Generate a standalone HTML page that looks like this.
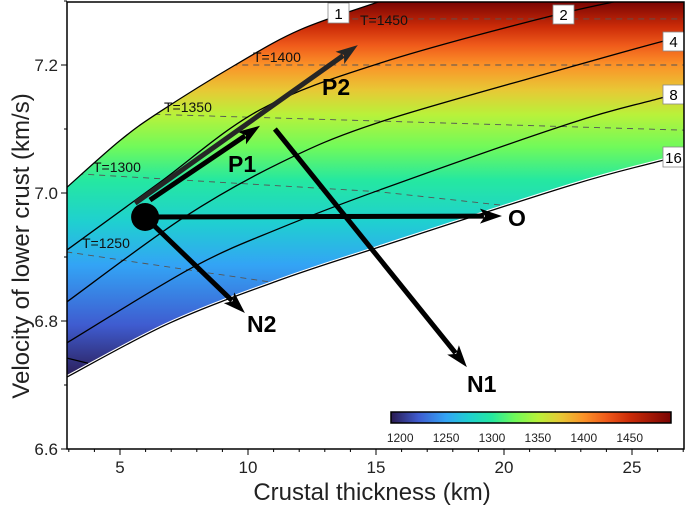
<!DOCTYPE html>
<html><head><meta charset="utf-8"><style>
html,body{margin:0;padding:0;background:#fff;}
svg{display:block;font-family:"Liberation Sans",Arial,sans-serif;}
</style></head><body>
<svg id="chart" width="685" height="509" viewBox="0 0 685 509" xmlns="http://www.w3.org/2000/svg">
<defs>
<linearGradient id="bandGrad" gradientUnits="userSpaceOnUse" x1="0" y1="2" x2="0" y2="380">
</linearGradient>
<linearGradient id="cbGrad" gradientUnits="userSpaceOnUse" x1="391" y1="0" x2="671" y2="0"></linearGradient>
<clipPath id="plotClip"><rect x="67" y="2" width="617" height="447"/></clipPath>
<clipPath id="bandClip"><path id="bandClipPath" d=""/></clipPath>
</defs>
<g id="plot"></g>
<g id="axes"></g>
</svg>
<script>
// ---- data ----
const xTicks = [5, 10, 15, 20, 25];
const yTicks = [6.6, 6.8, 7.0, 7.2];
const cbTicks = [1200, 1250, 1300, 1350, 1400, 1450];
// contour curves: thickness (km) and velocity (km/s)
const c1H = [2.93, 5.0, 6.56, 9.5, 12.03, 15.2, 17];
const c1V = [7.009, 7.082, 7.127, 7.2, 7.255, 7.30, 7.325];
const c2H = [2.93, 6.5, 10.47, 15.16, 22.3, 27.1];
const c2V = [6.911, 7.015, 7.13, 7.203, 7.281, 7.32];
const c4H = [2.93, 7.46, 11.25, 15.16, 22.6, 26.1, 27.1];
const c4V = [6.830, 6.961, 7.047, 7.111, 7.197, 7.236, 7.245];
const c8H = [2.93, 7.85, 11.25, 15.16, 22.6, 26.1, 27.1];
const c8V = [6.766, 6.884, 6.945, 7.005, 7.109, 7.148, 7.16];
const c16H = [2.93, 6.95, 11.25, 15.16, 22.6, 26.1, 27.1];
const c16V = [6.7125, 6.797, 6.864, 6.916, 7.012, 7.05, 7.06];
const c32H = [2.93, 3.75];
const c32V = [6.742, 6.734];
// isotherms (dashed): temperature, thickness points, velocity points
const isoT = [1450, 1400, 1350, 1300, 1250];
const isoH = [[2.9, 27.2], [2.9, 27.2], [2.9, 27.2], [2.9, 15.1, 19.9, 27.2], [2.9, 11.2, 20]];
const isoV = [[7.272, 7.272], [7.2, 7.2], [7.127, 7.098], [7.031, 7.002, 6.981, 6.95], [6.908, 6.859, 6.82]];
// colormap temperatures and colours
const cmapT = [1190, 1220, 1250, 1275, 1300, 1325, 1350, 1375, 1400, 1425, 1450, 1495];
const cmapC = ['#2a1a50','#3f5cd0','#33a4f5','#1fd0d0','#25e8a0','#70fa5a','#b8f23a','#e8c835','#fb9228','#ef5a1a','#cc2c08','#7a0403'];
// arrows: start/end in data coords
const arrowNames = ['O', 'P1', 'P2', 'N2', 'N1'];
const arrowH0 = [5.98, 6.17, 5.59, 5.98, 11.05];
const arrowV0 = [6.9625, 6.989, 6.984, 6.9625, 7.10];
const arrowH1 = [19.92, 10.47, 14.29, 9.88, 18.55];
const arrowV1 = [6.964, 7.105, 7.231, 6.8125, 6.728];
const dotH = 5.98, dotV = 6.9625;

// ---- axes ----
const X = h => 68.8 + (h - 3) * 25.6;
const Y = v => 449 - (v - 6.6) * 640;
const CB = t => 391 + (t - 1190) / 305 * 280;
const NS = 'http://www.w3.org/2000/svg';
function mk(tag, attrs, parent) {
  const e = document.createElementNS(NS, tag);
  for (const k in attrs) e.setAttribute(k, attrs[k]);
  parent.appendChild(e);
  return e;
}
function spline(H, V) {
  const p = H.map((h, i) => [X(h), Y(V[i])]);
  if (p.length === 2) return `M${p[0][0]},${p[0][1]}L${p[1][0]},${p[1][1]}`;
  let d = `M${p[0][0]},${p[0][1]}`;
  for (let i = 0; i < p.length - 1; i++) {
    const p0 = p[i - 1] || p[i], p1 = p[i], p2 = p[i + 1], p3 = p[i + 2] || p2;
    const c1x = p1[0] + (p2[0] - p0[0]) / 6, c1y = p1[1] + (p2[1] - p0[1]) / 6;
    const c2x = p2[0] - (p3[0] - p1[0]) / 6, c2y = p2[1] - (p3[1] - p1[1]) / 6;
    d += `C${c1x},${c1y} ${c2x},${c2y} ${p2[0]},${p2[1]}`;
  }
  return d;
}
const svg = document.getElementById('chart');
const plot = document.getElementById('plot');
const axes = document.getElementById('axes');

// gradients: map T -> y px (vertical approximation)
const gradY = {1495: 2, 1450: 27, 1425: 45, 1400: 65, 1375: 90, 1350: 115, 1325: 147, 1300: 180, 1275: 222, 1250: 265, 1220: 325, 1190: 380};
const bg = document.getElementById('bandGrad');
for (let i = cmapT.length - 1; i >= 0; i--) {
  const t = cmapT[i];
  const off = Math.max(0, (gradY[t] - 2) / 378);
  mk('stop', {offset: off, 'stop-color': cmapC[i]}, bg);
}
const cg = document.getElementById('cbGrad');
cmapT.forEach((t, i) => {
  mk('stop', {offset: (CB(t) - 391) / 280, 'stop-color': cmapC[i]}, cg);
});

// band shape
const upper = spline(c1H, c1V);
const lowerRevH = c16H.slice().reverse(), lowerRevV = c16V.slice().reverse();
const bandD = upper + `L${X(27.3)},${Y(7.4)}L${X(27.3)},${Y(7.06)}` + spline(lowerRevH, lowerRevV).replace(/^M/, 'L') + 'Z';
document.getElementById('bandClipPath').setAttribute('d', bandD);
const pg = mk('g', {'clip-path': 'url(#plotClip)'}, plot);
const band = mk('path', {d: bandD, fill: 'url(#bandGrad)'}, pg);



// isotherms
const isoG = mk('g', {'clip-path': 'url(#bandClip)'}, pg);
isoT.forEach((t, i) => {
  const d = isoH[i].map((h, j) => (j ? 'L' : 'M') + X(h) + ',' + Y(isoV[i][j])).join('');
  const l = mk('path', {d: d, fill: 'none', stroke: '#555', 'stroke-width': 0.9, 'stroke-dasharray': '6,5'}, isoG);
  
  
});

// contour curves
const lowW = mk('path', {d: spline(c16H, c16V), fill: 'none', stroke: '#fff', 'stroke-width': 3.5}, pg);


const curves = [['1', c1H, c1V], ['2', c2H, c2V], ['4', c4H, c4V], ['8', c8H, c8V], ['16', c16H, c16V], ['32', c32H, c32V]];
curves.forEach(c => {
  const p = mk('path', {d: spline(c[1], c[2]), fill: 'none', stroke: '#000', 'stroke-width': 1.3}, pg);
  
  
});

// isotherm labels
const isoLab = [['T=1450', 360, 25], ['T=1400', 253, 62], ['T=1350', 164, 112], ['T=1300', 93, 172], ['T=1250', 82, 248]];
isoLab.forEach(l => {
  const t = mk('text', {x: l[1], y: l[2], 'font-size': 14, fill: '#111'}, pg);
  t.textContent = l[0];
  
  
});

// contour label boxes
const boxes = [['1', 328, 3, 21, 20], ['2', 553, 5, 21, 19], ['4', 663, 32, 21, 19], ['8', 663, 85, 21, 19], ['16', 663, 147, 21, 20]];
boxes.forEach(b => {
  const g = mk('g', {}, plot);
  
  
  mk('rect', {x: b[1], y: b[2], width: b[3], height: b[4], fill: '#fff', stroke: '#888', 'stroke-width': 0.8}, g);
  const t = mk('text', {x: b[1] + b[3] / 2, y: b[2] + b[4] - 4, 'font-size': 15, 'text-anchor': 'middle', fill: '#000'}, g);
  t.textContent = b[0];
});

// arrows
const labPos = {O: [508, 226], P1: [228, 172], P2: [322, 95], N2: [247, 332], N1: [467, 392]};
arrowNames.forEach((n, i) => {
  const g = mk('g', {}, plot);
  
  
  const x0 = X(arrowH0[i]), y0 = Y(arrowV0[i]), x1 = X(arrowH1[i]), y1 = Y(arrowV1[i]);
  const ang = Math.atan2(y1 - y0, x1 - x0), L = 22, W = 7.5;
  const bx = x1 - L * Math.cos(ang), by = y1 - L * Math.sin(ang);
  const col = n === 'P2' ? '#262626' : '#000';
  mk('line', {x1: x0, y1: y0, x2: bx + 4 * Math.cos(ang), y2: by + 4 * Math.sin(ang), stroke: col, 'stroke-width': 5}, g);
  const px = -Math.sin(ang) * W, py = Math.cos(ang) * W;
  mk('polygon', {points: `${x1},${y1} ${bx + px},${by + py} ${bx + 5 * Math.cos(ang)},${by + 5 * Math.sin(ang)} ${bx - px},${by - py}`, fill: col}, g);
  const t = mk('text', {x: labPos[n][0], y: labPos[n][1], 'font-size': 23, 'font-weight': 'bold', fill: '#000'}, g);
  t.textContent = n;
});
const dot = mk('circle', {cx: X(dotH), cy: Y(dotV), r: 14, fill: '#000'}, plot);



// colorbar
const cbg = mk('g', {}, plot);


mk('rect', {x: 391, y: 412, width: 280, height: 11, fill: 'url(#cbGrad)', stroke: '#000', 'stroke-width': 1.5}, cbg);
cbTicks.forEach(t => {
  const tx = mk('text', {x: CB(t), y: 442, 'font-size': 12, 'text-anchor': 'middle', fill: '#222'}, cbg);
  tx.textContent = t;
  
  
});

// frame & ticks
const frame = mk('rect', {x: 67, y: 2, width: 617, height: 447, fill: 'none', stroke: '#000', 'stroke-width': 1.5}, axes);


for (let h = 3; h <= 27; h++) {
  const major = h % 5 === 0;
  mk('line', {x1: X(h), y1: 449, x2: X(h), y2: 449 + (major ? 6 : 3), stroke: '#000', 'stroke-width': 1}, axes);
}
xTicks.forEach(h => {
  const t = mk('text', {x: X(h), y: 473, 'font-size': 17, 'text-anchor': 'middle', fill: '#222'}, axes);
  t.textContent = h;
  
  
});
for (let k = 0; k <= 7; k++) {
  const v = 6.6 + k * 0.1;
  const major = k % 2 === 0;
  mk('line', {x1: 67, y1: Y(v), x2: 67 - (major ? 6 : 3), y2: Y(v), stroke: '#000', 'stroke-width': 1}, axes);
}
yTicks.forEach(v => {
  const t = mk('text', {x: 58, y: Y(v) + 6, 'font-size': 17, 'text-anchor': 'end', fill: '#222'}, axes);
  t.textContent = v.toFixed(1);
  
  
});
const xt = mk('text', {x: 372, y: 500, 'font-size': 24, 'text-anchor': 'middle', fill: '#222'}, axes);
xt.textContent = 'Crustal thickness (km)';


const yt = mk('text', {x: 0, y: 0, 'font-size': 24, 'text-anchor': 'middle', fill: '#222', transform: 'translate(29,246) rotate(-90)'}, axes);
yt.textContent = 'Velocity of lower crust (km/s)';


</script>
</body></html>
